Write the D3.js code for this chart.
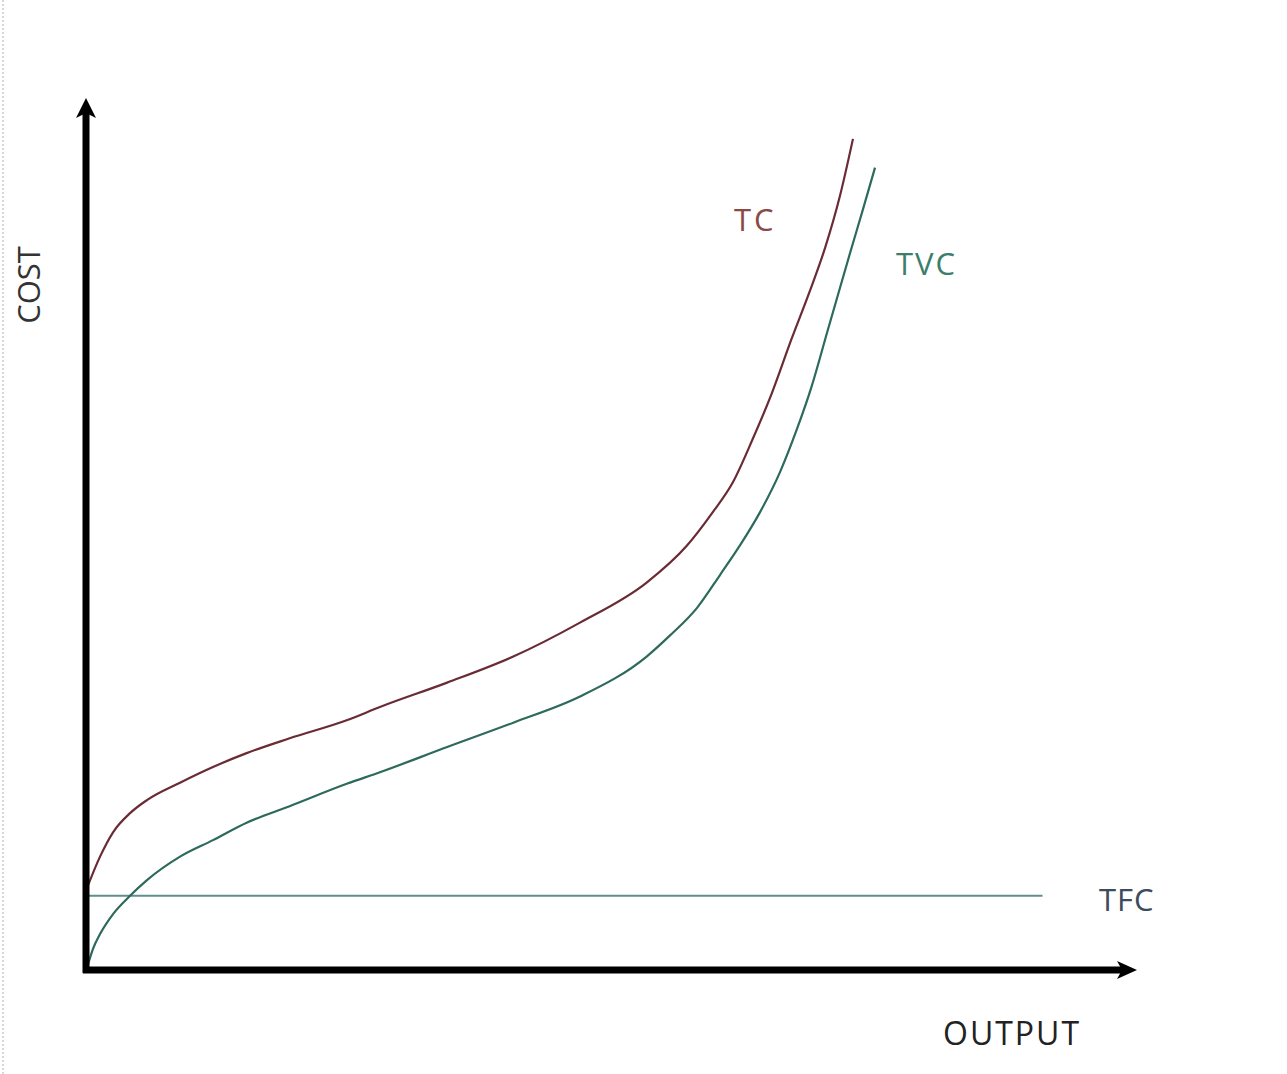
<!DOCTYPE html>
<html>
<head>
<meta charset="utf-8">
<script src="https://cdn.jsdelivr.net/npm/d3@7"></script>
<style>
  body { margin: 0; background: #fff; }
  text { font-family: "Open Sans", "DejaVu Sans", sans-serif; }
</style>
</head>
<body>
<svg></svg>
<script>
// output (x) and cost (y), in 0..100 units
let tcOutput  = [0, 1.24, 2.48, 4.1, 5.71, 8.86, 12.0, 15.2, 19.3, 24.8, 27.9, 34.3, 40.6, 46.95, 53.3, 57.1, 59.6, 61.5, 63.4, 65.2, 67.1, 68.9, 70.3, 71.7, 72.95]
let tcCost    = [9.2, 12.8, 15.6, 17.8, 19.3, 21.3, 23.1, 24.7, 26.4, 28.5, 30.0, 32.8, 35.8, 39.7, 44.3, 48.5, 52.4, 55.8, 60.8, 66.0, 72.3, 78.0, 82.8, 88.7, 95.3]

let tvcOutput = [0, 0.57, 1.24, 2.48, 4.1, 5.71, 8.86, 12.0, 15.2, 19.3, 24.8, 27.9, 34.3, 40.6, 46.95, 53.3, 55.5, 58.1, 60.3, 62.2, 64.1, 66.0, 67.6, 69.0, 70.5, 72.7, 73.9, 75.05]
let tvcCost   = [0, 2.2, 3.9, 6.2, 8.3, 10.1, 12.8, 14.7, 16.7, 18.6, 21.2, 22.5, 25.4, 28.2, 31.2, 35.8, 38.2, 41.4, 45.2, 48.6, 52.4, 57.0, 61.9, 66.8, 73.1, 82.3, 87.2, 92.0]

let tfcOutput = [0, 91]
let tfcCost   = [8.3, 8.3]

let width = 1287
let height = 1074

let svg = d3.select('svg').attr("width", width).attr("height", height)

let xScale = d3.scaleLinear().domain([0, 100]).range([87, 1137])
let yScale = d3.scaleLinear().domain([0, 100]).range([968, 98])

let zip = (xs, ys) => xs.map((x, i) => [x, ys[i]])

let line = d3.line()
    .x(d => xScale(d[0]))
    .y(d => yScale(d[1]))
    .curve(d3.curveMonotoneX)

// faint scanned edge on the left
svg.append("line")
    .attr("x1", 3).attr("x2", 3).attr("y1", 0).attr("y2", height)
    .attr("stroke", "#d8d8d8").attr("stroke-width", 2).attr("stroke-dasharray", "2,2")

// TFC
svg.append("path")
    .datum(zip(tfcOutput, tfcCost))
    .attr("d", d3.line().x(d => xScale(d[0])).y(d => yScale(d[1])))
    .attr("fill", "none").attr("stroke", "#5f8f8f").attr("stroke-width", 2)

// TVC
svg.append("path")
    .datum(zip(tvcOutput, tvcCost))
    .attr("d", line)
    .attr("fill", "none").attr("stroke", "#2d6a5c").attr("stroke-width", 2.2)

// TC
svg.append("path")
    .datum(zip(tcOutput, tcCost))
    .attr("d", line)
    .attr("fill", "none").attr("stroke", "#6a2c34").attr("stroke-width", 2.2)

// axes, no ticks, thick black lines
let xAxis = d3.axisBottom(xScale).tickValues([]).tickSizeOuter(0)
let yAxis = d3.axisLeft(yScale).tickValues([]).tickSizeOuter(0)

let gx = svg.append("g").attr("transform", "translate(0," + (yScale(0) + 2) + ")").call(xAxis)
let gy = svg.append("g").attr("transform", "translate(" + (xScale(0) - 1) + ",0)").call(yAxis)
gx.select(".domain").attr("stroke", "#000").attr("stroke-width", 7)
    .attr("d", "M" + (xScale(0) - 4) + ",0H" + (xScale(100) - 12))
gy.select(".domain").attr("stroke", "#000").attr("stroke-width", 7)
    .attr("d", "M0," + (yScale(0) + 5) + "V" + (yScale(100) + 12))

// arrow heads
let ax = xScale(0) - 1, ay = yScale(0) + 2
svg.append("path")
    .attr("d", "M" + ax + "," + yScale(100) + "L" + (ax + 10) + "," + (yScale(100) + 20) + "L" + ax + "," + (yScale(100) + 15) + "L" + (ax - 10) + "," + (yScale(100) + 20) + "Z")
    .attr("fill", "#000")
svg.append("path")
    .attr("d", "M" + xScale(100) + "," + ay + "L" + (xScale(100) - 20) + "," + (ay - 9) + "L" + (xScale(100) - 15) + "," + ay + "L" + (xScale(100) - 20) + "," + (ay + 9) + "Z")
    .attr("fill", "#000")

// labels
svg.append("text").text("TC").attr("x", 734).attr("y", 231)
    .attr("font-size", 31).attr("fill", "#8a4a44").attr("letter-spacing", 3)
svg.append("text").text("TVC").attr("x", 896).attr("y", 275)
    .attr("font-size", 31).attr("fill", "#3c7d6c").attr("letter-spacing", 2)
svg.append("text").text("TFC").attr("x", 1099).attr("y", 911)
    .attr("font-size", 31).attr("fill", "#3c4c5c").attr("letter-spacing", 1)
svg.append("text").text("OUTPUT").attr("x", 943).attr("y", 1045)
    .attr("font-size", 32).attr("fill", "#222").attr("letter-spacing", 2)
svg.append("text").text("COST")
    .attr("transform", "translate(40,285) rotate(-90)")
    .attr("text-anchor", "middle")
    .attr("font-size", 31).attr("fill", "#333")
</script>
</body>
</html>
